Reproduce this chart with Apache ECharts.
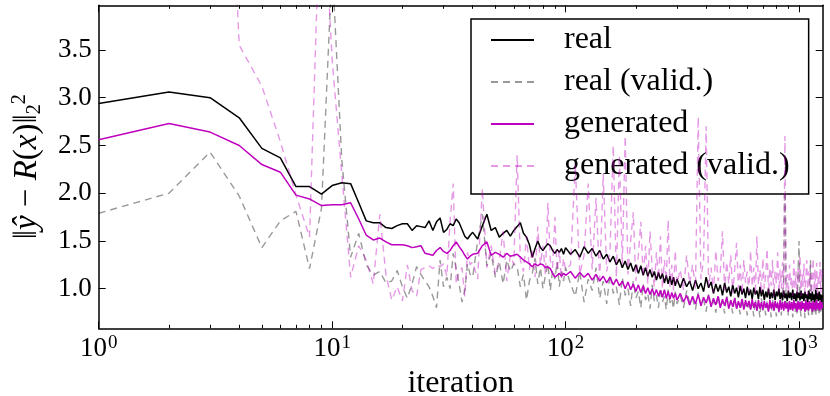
<!DOCTYPE html>
<html>
<head>
<meta charset="utf-8">
<script src="https://cdn.jsdelivr.net/npm/echarts@6/dist/echarts.min.js"></script>
<style>
  html, body { margin: 0; padding: 0; background: #fff; }
  #chart { width: 830px; height: 396px; }
</style>
</head>
<body>
<div id="chart"></div>
<script>
// iteration numbers (dense at first, thinned out later on)
const iterations = [
  1, 2, 3, 4, 5, 6, 7, 8, 9, 10, 11, 12, 13, 14, 15, 16, 17, 18, 19, 20,
  21, 22, 23, 24, 25, 26, 27, 28, 29, 30, 31, 32, 33, 34, 35, 36, 37, 38, 39, 40,
  42, 44, 46, 48, 50, 52, 54, 56, 58, 60, 62, 64, 66, 68, 70, 72, 74, 76, 78, 80,
  82, 84, 86, 88, 90, 92, 94, 96, 98, 100,
  105, 110, 115, 120, 125, 130, 135, 140, 145, 150, 155, 160, 165, 170, 175, 180, 185, 190, 195, 200,
  205, 210, 215, 220, 225, 230, 235, 240, 245, 250, 255, 260, 265, 270, 275, 280, 285, 290, 295, 300,
  310, 320, 330, 340, 350, 360, 370, 380, 390, 400, 410, 420, 430, 440, 450, 460, 470, 480, 490, 500,
  510, 520, 530, 540, 550, 560, 570, 580, 590, 600, 610, 620, 630, 640, 650, 660, 670, 680, 690, 700,
  710, 720, 730, 740, 750, 760, 770, 780, 790, 800, 810, 820, 830, 840, 850, 860, 870, 880, 890, 900,
  910, 920, 930, 940, 950, 960, 970, 980, 990, 1000, 1010, 1020, 1030, 1040, 1050, 1060, 1070, 1080, 1090, 1100,
  1110, 1120, 1130, 1140, 1150, 1160, 1170, 1180, 1190, 1200, 1210, 1220, 1230, 1240, 1250, 1260
];

const realTrain = [
  2.94, 3.06, 3.00, 2.79, 2.47, 2.37, 2.07, 2.07, 1.99, 2.08,
  2.11, 2.10, 1.90, 1.71, 1.69, 1.69, 1.64, 1.63, 1.66, 1.68,
  1.68, 1.61, 1.66, 1.65, 1.64, 1.71, 1.61, 1.70, 1.74, 1.59,
  1.62, 1.68, 1.66, 1.73, 1.69, 1.62, 1.55, 1.52, 1.56, 1.59,
  1.52, 1.66, 1.78, 1.61, 1.64, 1.54, 1.58, 1.61, 1.55, 1.61,
  1.65, 1.69, 1.58, 1.54, 1.46, 1.33, 1.42, 1.50, 1.43, 1.40,
  1.44, 1.47, 1.45, 1.40, 1.37, 1.41, 1.38, 1.42, 1.36, 1.43,
  1.36, 1.41, 1.33, 1.44, 1.37, 1.42, 1.34, 1.40, 1.31, 1.36,
  1.28, 1.34, 1.25, 1.31, 1.22, 1.29, 1.20, 1.27, 1.18, 1.25,
  1.16, 1.24, 1.14, 1.22, 1.13, 1.20, 1.12, 1.18, 1.09, 1.17,
  1.10, 1.16, 1.06, 1.14, 1.05, 1.13, 1.04, 1.12, 1.03, 1.10,
  1.01, 1.11, 1.02, 1.08, 0.98, 1.09, 1.00, 1.06, 0.97, 1.12,
  1.01, 1.07, 0.95, 1.05, 0.97, 1.04, 0.93, 1.06, 0.96, 1.02,
  0.92, 1.04, 0.95, 1.01, 0.91, 1.03, 0.94, 1.00, 0.90, 1.02,
  0.93, 0.99, 0.89, 1.01, 0.94, 0.98, 0.89, 1.02, 0.92, 0.99,
  0.88, 0.97, 0.91, 1.00, 0.89, 0.96, 0.90, 0.99, 0.88, 0.97,
  0.92, 1.00, 0.89, 0.96, 0.88, 0.98, 0.90, 0.95, 0.87, 0.98,
  0.90, 0.96, 0.88, 0.99, 0.89, 0.95, 0.87, 0.97, 0.90, 0.96,
  0.88, 0.98, 0.89, 0.95, 0.87, 0.97, 0.90, 0.94, 0.86, 0.98,
  0.89, 0.95, 0.87, 0.97, 0.88, 0.94, 0.86, 0.99, 0.89, 0.95,
  0.87, 0.97, 0.88, 0.94, 0.86, 0.93
];

const realValid = [
  1.79, 2.00, 2.43, 1.97, 1.43, 1.71, 1.81, 1.21, 1.84, 4.40,
  2.35, 1.33, 1.58, 1.25, 1.14, 1.18, 1.06, 1.08, 1.19, 1.02,
  0.90, 1.05, 1.23, 1.15, 1.08, 1.02, 0.92, 0.80, 1.30, 1.02,
  1.12, 1.00, 1.37, 1.21, 1.05, 0.86, 0.98, 1.26, 1.15, 1.12,
  1.50, 1.78, 1.24, 1.37, 1.12, 1.28, 1.05, 1.30, 1.18, 1.26,
  1.23, 1.02, 1.15, 0.88, 1.08, 1.16, 1.32, 1.05, 1.22, 1.00,
  1.14, 1.26, 0.98, 1.20, 1.10, 1.28, 1.02, 1.18, 1.08, 1.22,
  1.05, 0.92, 1.18, 0.86, 1.10, 0.98, 1.22, 0.90, 1.08, 0.84,
  1.15, 0.95, 1.02, 0.83, 1.12, 0.93, 1.00, 0.82, 1.08, 0.90,
  0.97, 0.80, 1.05, 0.88, 0.95, 0.79, 1.04, 0.87, 0.93, 0.80,
  1.01, 0.86, 0.92, 0.78, 0.99, 0.85, 0.90, 0.79, 0.97, 0.84,
  0.93, 0.80, 0.98, 0.85, 0.90, 0.78, 0.96, 0.83, 0.89, 0.76,
  0.95, 0.82, 0.88, 0.75, 0.94, 0.81, 0.87, 0.74, 0.93, 0.80,
  0.86, 0.74, 0.92, 0.79, 0.85, 0.73, 0.91, 0.78, 0.84, 0.72,
  0.90, 0.77, 0.84, 0.71, 0.89, 0.76, 0.83, 0.70, 0.90, 0.77,
  0.82, 0.72, 0.88, 0.75, 0.83, 0.70, 0.89, 0.76, 0.82, 0.71,
  0.87, 0.75, 0.84, 0.72, 0.95, 1.10, 2.60, 0.78, 0.86, 0.72,
  0.88, 0.76, 0.83, 0.70, 0.89, 0.75, 0.82, 0.74, 1.15, 1.50,
  0.80, 0.71, 0.88, 0.76, 0.83, 0.69, 0.90, 0.77, 0.82, 0.72,
  0.95, 1.30, 0.78, 0.70, 0.88, 0.76, 0.84, 0.71, 0.90, 0.77,
  0.83, 0.72, 0.89, 0.76, 0.84, 0.80
];

const genTrain = [
  2.56, 2.73, 2.64, 2.50, 2.30, 2.22, 1.98, 1.94, 1.87, 1.88,
  1.88, 1.90, 1.73, 1.56, 1.51, 1.53, 1.49, 1.46, 1.46, 1.46,
  1.45, 1.43, 1.44, 1.45, 1.37, 1.36, 1.35, 1.40, 1.43, 1.39,
  1.37, 1.40, 1.45, 1.49, 1.44, 1.40, 1.35, 1.31, 1.34, 1.36,
  1.37, 1.45, 1.49, 1.35, 1.38, 1.36, 1.33, 1.37, 1.34, 1.35,
  1.36, 1.33, 1.30, 1.28, 1.26, 1.23, 1.26, 1.24, 1.26, 1.25,
  1.22, 1.23, 1.21, 1.16, 1.12, 1.14, 1.16, 1.13, 1.16, 1.14,
  1.18, 1.11, 1.17, 1.12, 1.16, 1.09, 1.15, 1.08, 1.13, 1.06,
  1.12, 1.04, 1.10, 1.03, 1.08, 1.00, 1.07, 0.99, 1.05, 0.97,
  1.04, 0.96, 1.03, 0.95, 1.01, 0.94, 1.00, 0.93, 0.99, 0.92,
  0.98, 0.91, 0.99, 0.90, 0.97, 0.89, 0.96, 0.90, 0.95, 0.88,
  0.95, 0.86, 0.93, 0.83, 0.92, 0.84, 0.94, 0.82, 0.91, 0.85,
  0.93, 0.81, 0.90, 0.83, 0.92, 0.80, 0.89, 0.82, 0.91, 0.79,
  0.88, 0.81, 0.90, 0.79, 0.87, 0.80, 0.89, 0.78, 0.88, 0.81,
  0.87, 0.78, 0.89, 0.80, 0.86, 0.77, 0.88, 0.79, 0.86, 0.78,
  0.87, 0.80, 0.85, 0.76, 0.88, 0.79, 0.86, 0.77, 0.87, 0.80,
  0.85, 0.76, 0.88, 0.78, 0.86, 0.77, 0.87, 0.79, 0.85, 0.76,
  0.87, 0.78, 0.86, 0.77, 0.88, 0.79, 0.85, 0.76, 0.87, 0.78,
  0.86, 0.77, 0.87, 0.79, 0.85, 0.76, 0.88, 0.78, 0.86, 0.77,
  0.87, 0.79, 0.85, 0.76, 0.87, 0.78, 0.86, 0.77, 0.88, 0.79,
  0.85, 0.77, 0.87, 0.78, 0.86, 0.80
];

const genValid = [
  12.0, 11.0, 10.0, 3.55, 3.12, 2.54, 1.98, 1.54, 5.50, 3.40,
  2.20, 1.12, 1.45, 1.30, 1.05, 1.78, 1.15, 0.88, 1.02, 0.87,
  1.25, 0.98, 0.92, 1.20, 1.22, 1.24, 1.21, 1.25, 1.23, 1.26,
  1.13, 1.70, 2.10, 1.05, 1.18, 1.22, 0.92, 1.38, 1.25, 1.28,
  1.10, 2.05, 1.22, 1.45, 1.15, 1.30, 1.60, 1.08, 1.35, 1.25,
  2.40, 1.30, 1.18, 1.55, 1.20, 1.42, 1.12, 1.65, 1.25, 1.45,
  1.15, 1.90, 1.30, 1.22, 1.75, 1.18, 1.40, 1.10, 1.32, 1.20,
  1.25, 2.30, 1.15, 1.35, 2.10, 1.20, 1.95, 1.10, 2.20, 1.18,
  1.40, 2.50, 1.12, 2.40, 1.25, 2.60, 1.15, 1.50, 1.80, 1.08,
  1.35, 1.70, 1.12, 1.45, 1.05, 1.60, 1.20, 1.02, 1.38, 1.10,
  1.55, 1.00, 1.30, 1.08, 1.72, 1.02, 1.25, 0.98, 1.40, 1.05,
  1.20, 0.98, 1.35, 1.05, 1.25, 1.00, 2.80, 1.10, 1.30, 2.70,
  1.02, 1.22, 0.96, 1.40, 1.08, 1.18, 1.60, 0.98, 1.28, 1.05,
  1.35, 0.95, 1.20, 1.48, 1.00, 1.25, 0.94, 1.30, 1.06, 1.18,
  0.96, 1.40, 1.02, 1.22, 0.93, 1.55, 1.04, 1.20, 0.95, 1.32,
  1.00, 1.15, 1.42, 0.94, 1.22, 1.03, 1.30, 0.92, 1.18, 1.05,
  1.38, 0.96, 1.20, 1.00, 1.28, 0.93, 2.60, 1.00, 1.15, 0.95,
  1.25, 1.04, 1.12, 0.92, 1.30, 1.00, 1.18, 0.94, 1.22, 1.06,
  1.35, 0.92, 1.15, 1.02, 1.26, 0.95, 1.12, 1.30, 0.93, 1.18,
  1.02, 1.25, 0.94, 1.10, 1.32, 0.96, 1.20, 1.00, 1.27, 0.93,
  1.15, 1.05, 1.28, 0.95, 1.20, 1.10
];

const seriesNames = ['real', 'real (valid.)', 'generated', 'generated (valid.)'];
const xMajor = [1, 10, 100, 1000];
const xMajorExp = ['0', '1', '2', '3'];
const xMinor = [2, 3, 4, 5, 6, 7, 8, 9, 20, 30, 40, 50, 60, 70, 80, 90, 200, 300, 400, 500, 600, 700, 800, 900];
const yTicks = [1.0, 1.5, 2.0, 2.5, 3.0, 3.5];

const FONT = 'Liberation Serif';
const X_MIN = 1, X_MAX = 1263;
const Y_MIN = 0.585, Y_MAX = 3.968;

function pairs(vals) {
  return iterations.map((it, k) => [it, vals[k]]);
}

const gridBox = { left: 98.7, right: 7.3, top: 5.3, bottom: 67.7, outerBoundsMode: 'none', containLabel: false };

function xAxisBase(grid, pos, ticks, len, extra) {
  return Object.assign({
    type: 'log', logBase: 10, gridIndex: grid, position: pos,
    min: X_MIN, max: X_MAX,
    axisLine: { show: false },
    axisTick: { show: true, inside: true, length: len, customValues: ticks,
      lineStyle: { color: '#000', width: 1 } },
    axisLabel: { show: false },
    splitLine: { show: false }
  }, extra || {});
}

const chart = echarts.init(document.getElementById('chart'), null, { renderer: 'canvas' });

const option = {
  animation: false,
  backgroundColor: '#fff',
  grid: [
    Object.assign({}, gridBox),
    Object.assign({}, gridBox)
  ],
  legend: {
    data: seriesNames,
    orient: 'vertical',
    left: 471,
    top: 19,
    itemWidth: 43,
    itemHeight: 14,
    itemGap: 10,
    padding: [5, 19, 12, 19],
    backgroundColor: '#fff',
    borderColor: '#000',
    borderWidth: 1.5,
    borderRadius: 0,
    selectedMode: false,
    itemStyle: { opacity: 0 },
    formatter: name => '{t|' + name + '}',
    textStyle: {
      fontFamily: FONT, fontSize: 32, color: '#000',
      rich: { t: { fontFamily: FONT, fontSize: 32, color: '#000', padding: [0, 0, 0, 25], lineHeight: 36 } }
    }
  },
  xAxis: [
    xAxisBase(0, 'bottom', xMajor, 7, {
      axisLine: { show: true, lineStyle: { color: '#000', width: 1.5 } },
      axisLabel: {
        show: true, margin: 5, customValues: xMajor,
        fontFamily: FONT, fontSize: 27, color: '#000',
        formatter: v => '10{s|' + xMajorExp[xMajor.indexOf(Math.round(v))] + '}',
        rich: { s: { fontFamily: FONT, fontSize: 19, color: '#000', verticalAlign: 'top', padding: [0, 0, 12, 1] } }
      },
      name: 'iteration',
      nameLocation: 'middle',
      nameGap: 33,
      nameTextStyle: { fontFamily: FONT, fontSize: 32, color: '#000' }
    }),
    xAxisBase(0, 'top', xMajor, 7, {
      axisLine: { show: true, lineStyle: { color: '#000', width: 1.5 } }
    }),
    xAxisBase(1, 'bottom', xMinor, 3.5),
    xAxisBase(1, 'top', xMinor, 3.5)
  ],
  yAxis: [
    {
      type: 'value', gridIndex: 0, position: 'left',
      min: Y_MIN, max: Y_MAX,
      axisLine: { show: true, lineStyle: { color: '#000', width: 1.5 } },
      axisTick: { show: true, inside: true, length: 7, customValues: yTicks,
        lineStyle: { color: '#000', width: 1 } },
      axisLabel: { show: true, margin: 7, customValues: yTicks,
        fontFamily: FONT, fontSize: 27, color: '#000',
        formatter: v => v.toFixed(1) },
      splitLine: { show: false },
      name: '{n|\u2016}{i|\u0177}{n| \u2212 }{i|R}{n|(}{i|x}{n|)\u2016}{sb|2}{sp|2}',
      nameLocation: 'middle',
      nameGap: 54,
      nameRotate: 90,
      nameTextStyle: {
        fontFamily: FONT, fontSize: 33, color: '#000',
        rich: {
          n: { fontFamily: FONT, fontSize: 33, color: '#000' },
          i: { fontFamily: FONT, fontSize: 33, color: '#000', fontStyle: 'italic' },
          sb: { fontFamily: FONT, fontSize: 20, color: '#000', verticalAlign: 'bottom' },
          sp: { fontFamily: FONT, fontSize: 20, color: '#000', verticalAlign: 'top', padding: [0, 0, 15, 0] }
        }
      }
    },
    {
      type: 'value', gridIndex: 0, position: 'right',
      min: Y_MIN, max: Y_MAX,
      axisLine: { show: true, lineStyle: { color: '#000', width: 1.5 } },
      axisTick: { show: true, inside: true, length: 7, customValues: yTicks,
        lineStyle: { color: '#000', width: 1 } },
      axisLabel: { show: false },
      splitLine: { show: false }
    },
    {
      type: 'value', gridIndex: 1, min: Y_MIN, max: Y_MAX, show: false
    }
  ],
  series: [
    {
      name: seriesNames[0], type: 'line', xAxisIndex: 0, yAxisIndex: 0,
      data: pairs(realTrain), showSymbol: false, symbol: 'none',
      itemStyle: { color: '#000' },
      lineStyle: { color: '#000', width: 1.5 }, z: 2
    },
    {
      name: seriesNames[1], type: 'line', xAxisIndex: 0, yAxisIndex: 0,
      data: pairs(realValid), showSymbol: false, symbol: 'none',
      itemStyle: { color: '#000', opacity: 0.4 },
      lineStyle: { color: '#000', width: 1.4, type: [7, 5], opacity: 0.4 }, z: 3
    },
    {
      name: seriesNames[2], type: 'line', xAxisIndex: 0, yAxisIndex: 0,
      data: pairs(genTrain), showSymbol: false, symbol: 'none',
      itemStyle: { color: '#bf00bf' },
      lineStyle: { color: '#bf00bf', width: 1.5 }, z: 4
    },
    {
      name: seriesNames[3], type: 'line', xAxisIndex: 0, yAxisIndex: 0,
      data: pairs(genValid), showSymbol: false, symbol: 'none',
      itemStyle: { color: '#bf00bf', opacity: 0.4 },
      lineStyle: { color: '#bf00bf', width: 1.4, type: [7, 5], opacity: 0.4 }, z: 5
    }
  ]
};

chart.setOption(option);
</script>
</body>
</html>
